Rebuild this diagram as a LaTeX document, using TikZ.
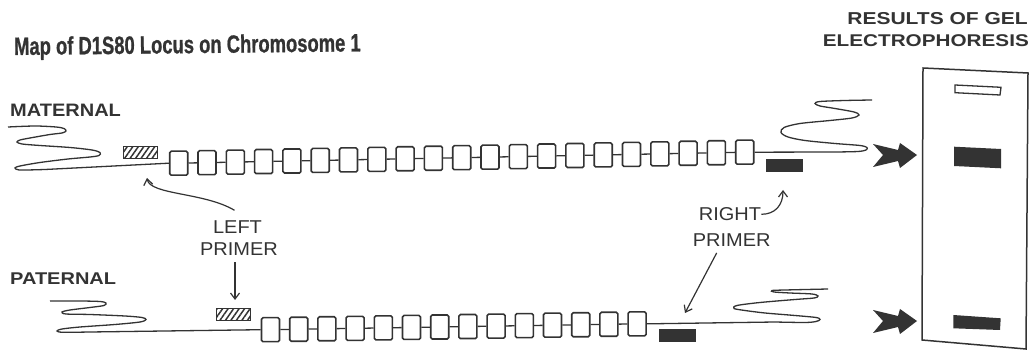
\documentclass[tikz,border=0pt]{standalone}
\usepackage{fontspec}
\setmainfont{Liberation Sans}
\newfontfamily\heavyfont[BoldFeatures={FakeBold=1}]{Liberation Sans}
\usepackage{graphicx}
\usepackage{tikz}
\usetikzlibrary{arrows.meta, patterns.meta}
\definecolor{ink}{HTML}{333333}
\tikzset{
    strand/.style={ink, line width=1.3pt},
    unit/.style={draw=ink, line width=1.6pt, fill=white, rounded corners=1.5pt,
        minimum width=18pt, minimum height=24pt, inner sep=0pt},
    hatch/.style={draw=ink, line width=1pt, minimum width=34pt, minimum height=12pt, inner sep=0pt,
        pattern={Lines[angle=55, distance=4.5pt, line width=1.5pt]}, pattern color=ink},
    tag/.style={fill=ink, minimum width=37pt, minimum height=13pt, inner sep=0pt},
    ptr/.style={ink, line width=1.2pt, -{Straight Barb[length=6pt, width=9pt]}},
    lbl/.style={inner sep=0pt, text=ink, anchor=base},
}

\begin{document}
\begin{tikzpicture}[x=1pt, y=-1pt]
    \useasboundingbox (0,0) rectangle (1033,352);
    \node[lbl, anchor=base west, rotate=0.6] (title) at (14,55)
        {\fontsize{25}{30}\selectfont\heavyfont\bfseries\scalebox{0.736}[1]{Map of D1S80 Locus on Chromosome 1}};
    \node[lbl, anchor=base east] (gel1) at (1028,25)
        {\fontsize{21}{25}\selectfont\bfseries\scalebox{1}[0.82]{RESULTS OF GEL}};
    \node[lbl, anchor=base east] (gel2) at (1029,47)
        {\fontsize{20.7}{25}\selectfont\bfseries\scalebox{1}[0.82]{ELECTROPHORESIS}};
    \node[lbl, anchor=base west] (mat) at (10,116.7)
        {\fontsize{20}{24}\selectfont\bfseries\scalebox{1}[0.9]{MATERNAL}};
    \node[lbl, anchor=base west] (pat) at (10,285)
        {\fontsize{20}{24}\selectfont\bfseries\scalebox{1}[0.85]{PATERNAL}};

    \foreach \i in {1,...,21}
        \node[unit] (m\i) at ({178.7+28.3*(\i-1)}, {163.2-0.55*(\i-1)}) {};
    \foreach \i [count=\j from 2] in {1,...,20}
        \draw[strand] (m\i) -- (m\j);
    \foreach \i in {1,...,14}
        \node[unit] (p\i) at ({270.5+28.2*(\i-1)}, {329.7-0.45*(\i-1)}) {};
    \foreach \i [count=\j from 2] in {1,...,13}
        \draw[strand] (p\i) -- (p\j);

    \draw[strand] plot[smooth, tension=0.5] coordinates {(8,127) (35,126) (56,127) (64,128.5) (66,131)
        (62,133) (50,134.5) (30,138) (20,140) (17,142) (22,144) (40,145.5) (70,147.5) (92,150)
        (100,152.5) (99,155.5) (90,157) (68,159) (40,162.5) (20,166) (15,168) (19,170) (35,169.8)
        (45,169.5)} -- (m1.west);
    \draw[strand] (m21.east) -- plot[smooth, tension=0.5] coordinates {(836,152) (858,151.5) (866,150)
        (867,147.5) (860,145.5) (835,143.5) (805,140.5) (788,137) (781,132.5) (784,127.5) (800,123.5)
        (830,120.5) (852,118) (859,115) (854,112) (835,108.5) (820,106) (815,103.5) (820,101.5)
        (845,100.5) (872,100)};
    \draw[strand] plot[smooth, tension=0.5] coordinates {(50,301) (80,301) (100,301.5) (106,303)
        (104,305.5) (90,307.5) (70,310) (62,312) (66,314) (90,314.5) (125,316) (142,317.5) (146,319.5)
        (140,322) (115,324.5) (80,327) (62,329) (57,331) (63,332.3) (90,332)} -- (p1.west);
    \draw[strand] (p14.east) -- plot[smooth, tension=0.5] coordinates {(775,322) (805,322.5) (816,321.5)
        (820,319.5) (816,317.5) (795,315.5) (765,313) (745,310.5) (734,308.5) (737,305.5) (760,302.5)
        (795,299.5) (814,298) (818,296) (812,294) (790,293) (774,292) (772,290.5) (785,290) (828,289)};

    \node[hatch] (mlp) at (140.5,152.5) {};
    \node[tag] (mrp) at (784.5,165.7) {};
    \node[hatch] (plp) at (233,314.5) {};
    \node[tag] (prp) at (677.5,335.3) {};

    \node[lbl] (lleft) at (237.5,233.3) {\fontsize{20}{24}\selectfont\scalebox{1}[0.93]{LEFT}};
    \node[lbl] (lprim) at (239,256) {\fontsize{20}{24}\selectfont\scalebox{1}[0.93]{PRIMER}};
    \node[lbl] (rright) at (730,220.7) {\fontsize{20}{24}\selectfont\scalebox{1}[0.93]{RIGHT}};
    \node[lbl] (rprim) at (731.7,246.7) {\fontsize{20}{24}\selectfont\scalebox{1}[0.93]{PRIMER}};

    \coordinate (mlTip) at (147,178);
    \coordinate (mrTip) at (783,190);
    \coordinate (plTip) at (235,300);
    \coordinate (prTip) at (685,313);
    \draw[ptr] ([shift={(-3,-10)}]lleft.north) .. controls +(-30,-18) and +(3,17) .. (mlTip);
    \draw[ptr] (rright.east) .. controls +(14,0) and +(0,15) .. (mrTip);
    \draw[ptr] ([shift={(-4,6)}]lprim.south) -- (plTip);
    \draw[ptr] ([shift={(-15,6)}]rprim.south) -- (prTip);

    \foreach \y in {155,321}
        \fill[ink] (917,\y) -- ++(-17,-12) -- ++(-2,7) -- ++(-25,-6) -- ++(10,11) -- ++(-10,12)
            -- ++(25,-6) -- ++(2,7) -- cycle;

    \draw[ink, line width=1.5pt] (923,68) -- (1028,73) -- (1026,349) -- (922,340) -- cycle;
    \draw[ink, line width=1.3pt, fill=white] (955,85) -- (1001,87.3) -- (1000,95) -- (955,92.7) -- cycle;
    \fill[ink] (954,146.7) -- (1001,149) -- (1001,168.3) -- (954,166) -- cycle;
    \fill[ink] (953.3,315) -- (1000.7,318.3) -- (1000,330) -- (953.3,328.3) -- cycle;
\end{tikzpicture}
\end{document}
